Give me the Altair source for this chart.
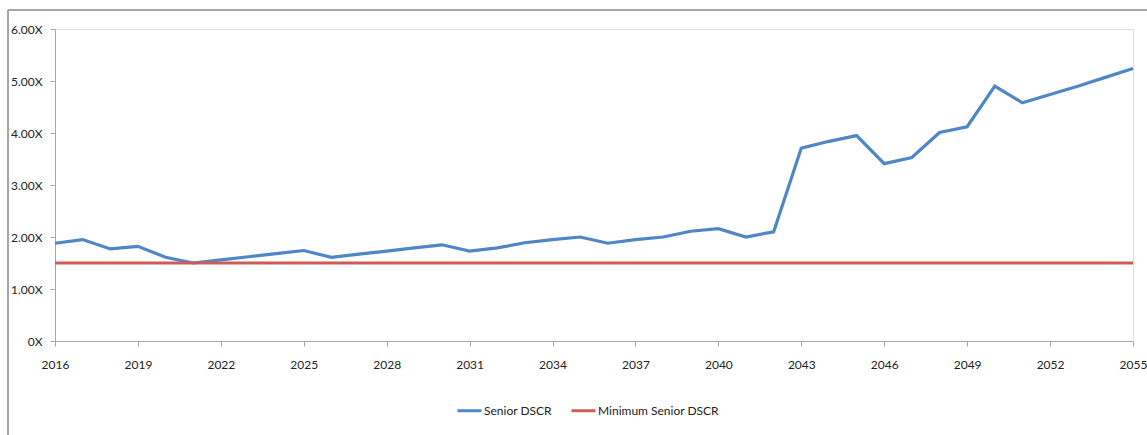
import altair as alt
import pandas as pd

years = list(range(2016, 2056))
senior_dscr = [
    1.88, 1.95, 1.77, 1.82, 1.61, 1.50, 1.56, 1.62, 1.68, 1.74,
    1.61, 1.67, 1.73, 1.79, 1.85, 1.73, 1.79, 1.89, 1.95, 2.00,
    1.88, 1.95, 2.00, 2.11, 2.16, 2.00, 2.10, 3.71, 3.84, 3.95,
    3.41, 3.53, 4.01, 4.12, 4.90, 4.58, 4.74, 4.90, 5.07, 5.24,
]
minimum_senior_dscr = [1.50] * len(years)
series_names = ["Senior DSCR", "Minimum Senior DSCR"]
series_colors = ["#4F86C6", "#CD5C57"]
x_ticks = list(range(2016, 2056, 3))
y_ticks = [0, 1, 2, 3, 4, 5, 6]

df = pd.concat([
    pd.DataFrame({"Year": years, "Value": senior_dscr, "Series": series_names[0]}),
    pd.DataFrame({"Year": years, "Value": minimum_senior_dscr, "Series": series_names[1]}),
])

FONT = "Lato"
AXIS_GRAY = "#A6A6A6"

lines = alt.Chart(df).mark_line(strokeWidth=3.2).encode(
    x=alt.X(
        "Year:Q",
        scale=alt.Scale(domain=[2016, 2055], nice=False, zero=False),
        axis=alt.Axis(
            values=x_ticks, format="d", title=None, grid=False,
            domainColor=AXIS_GRAY, tickColor=AXIS_GRAY, tickSize=5,
            labelPadding=13, labelFont=FONT, labelFontSize=12,
            labelColor="#222222", labelFlush=False,
        ),
    ),
    y=alt.Y(
        "Value:Q",
        scale=alt.Scale(domain=[0, 6], nice=False),
        axis=alt.Axis(
            values=y_ticks, title=None, grid=False,
            labelExpr="datum.value == 0 ? '0X' : format(datum.value, '.2f') + 'X'",
            domainColor=AXIS_GRAY, tickColor=AXIS_GRAY, tickSize=5,
            labelPadding=8, labelFont=FONT, labelFontSize=12,
            labelColor="#222222",
        ),
    ),
    color=alt.Color(
        "Series:N",
        scale=alt.Scale(domain=series_names, range=series_colors),
        sort=series_names,
        legend=alt.Legend(
            title=None, orient="none", direction="horizontal",
            legendX=401, legendY=368,
            symbolType="stroke", symbolSize=576, symbolStrokeWidth=3,
            labelFont=FONT, labelFontSize=12, labelColor="#222222",
            labelOffset=1, columnPadding=13,
        ),
    ),
    order=alt.Order("Year:Q"),
)

# Outer frame edges (top and left) around the chart
frame_top = alt.Chart(df).mark_rule(color=AXIS_GRAY, strokeWidth=1.5).encode(
    x=alt.value(-47), x2=alt.value(1100), y=alt.value(-19)
)
frame_left = alt.Chart(df).mark_rule(color=AXIS_GRAY, strokeWidth=1.5).encode(
    x=alt.value(-47), y=alt.value(-19), y2=alt.value(420)
)

chart = alt.layer(frame_top, frame_left, lines).properties(
    width=1078, height=312,
    autosize=alt.AutoSizeParams(type="none"),
    padding={"left": 55, "top": 29, "right": 14, "bottom": 94},
).configure_view(stroke=None).configure(background="white")

chart.save("out.html", embed_options={"renderer": "svg", "actions": False})
